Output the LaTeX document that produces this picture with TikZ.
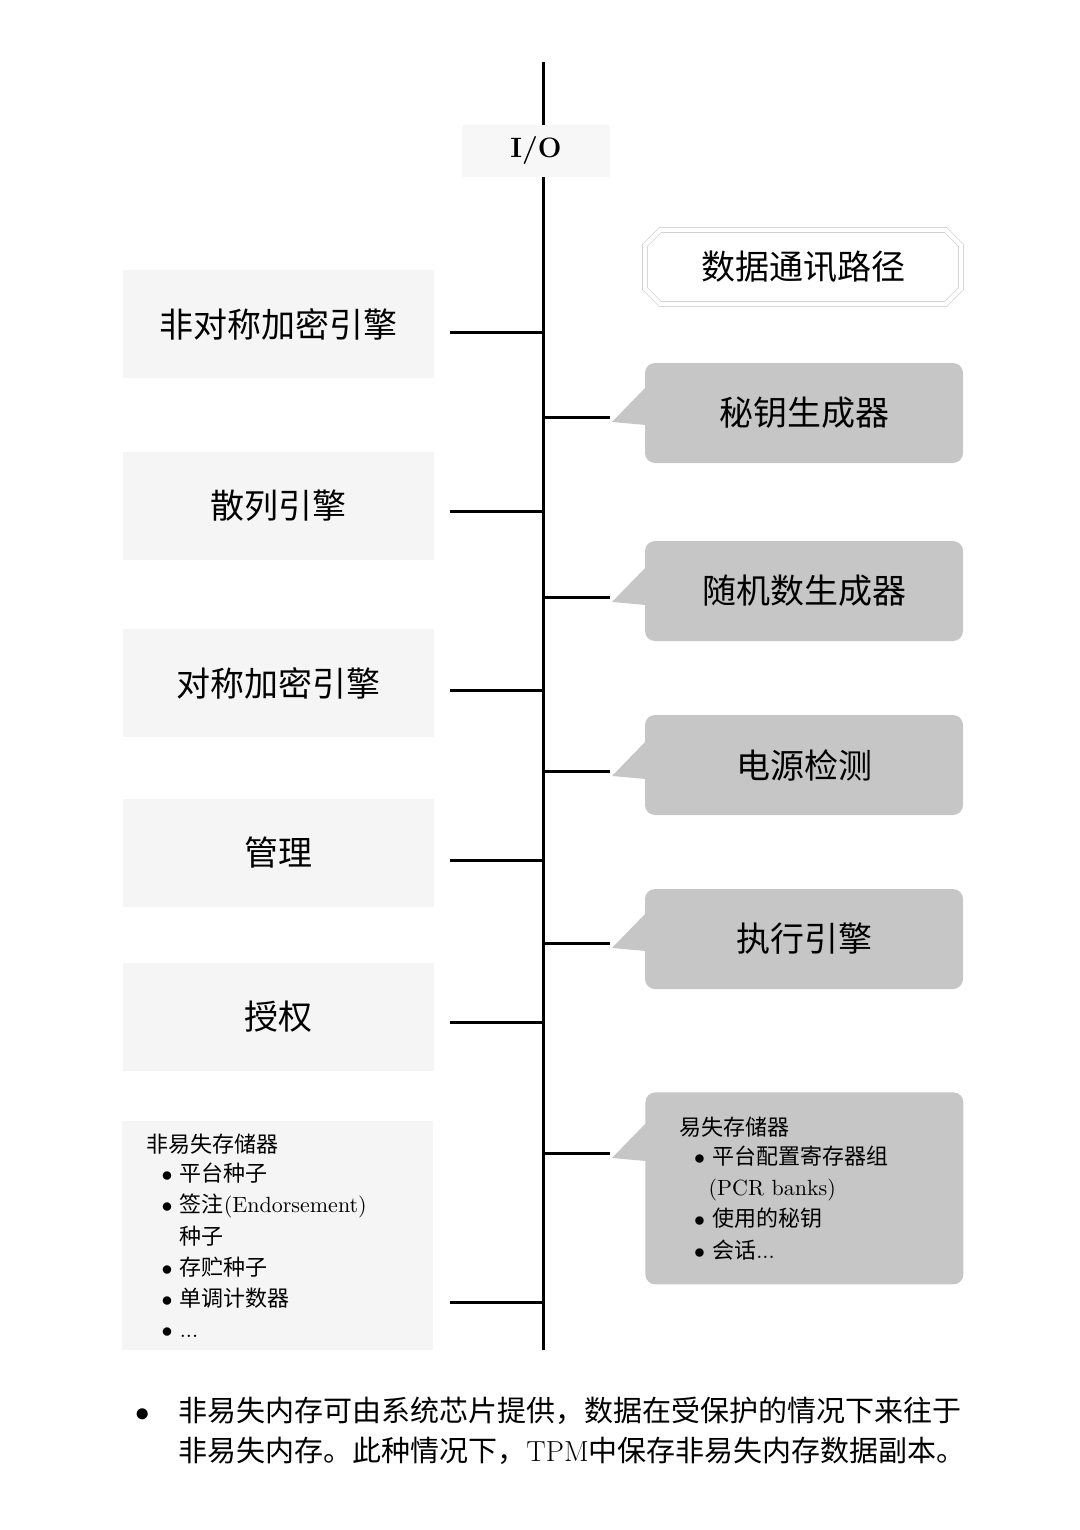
\documentclass[tikz,border=0pt]{standalone}
\usepackage{fontspec}
\setmainfont{Noto Sans CJK SC}
\newfontfamily\latinfont{Latin Modern Roman}
\newcommand{\lt}[1]{{\latinfont #1}}
\usetikzlibrary{positioning,shapes.misc}
\definecolor{boxlight}{HTML}{F5F5F5}
\definecolor{boxdark}{HTML}{C6C6C6}
\tikzset{
  x=0.5pt, y=-0.5pt,
  unit/.style={fill=boxlight, minimum width=155.5pt, minimum height=54pt, font=\fontsize{17}{20}\selectfont},
  part/.style={fill=boxdark, rounded corners=5pt, minimum width=159pt, minimum height=50pt, font=\fontsize{17}{20}\selectfont},
  link/.style={line width=1.5pt},
  tip/.style={fill=boxdark}
  }

\begin{document}
\begin{tikzpicture}
    \useasboundingbox (0,0) rectangle (1080,1530);

    % spine
    \coordinate (top) at (543,62);
    \coordinate (bot) at (543,1350);
    \draw [link] (top) -- (bot);
    \node [fill=boxlight!80, minimum width=74pt, minimum height=26pt, font=\latinfont\bfseries\fontsize{14}{16}\selectfont] at (536,151) (io) {I/O};

    \node [chamfered rectangle, chamfered rectangle xsep=4pt, draw=gray!35, double=white, double distance=2pt, fill=white,
           minimum width=158pt, minimum height=37pt, font=\fontsize{17}{20}\selectfont] at (803,267) (path) {数据通讯路径};

    % left units
    \node [unit] at (278,324) (asym) {非对称加密引擎};
    \node [unit] at (278,506) (hash) {散列引擎};
    \node [unit] at (278,683) (sym) {对称加密引擎};
    \node [unit] at (278,853) (mgmt) {管理};
    \node [unit] at (278,1017) (auth) {授权};
    \node [unit, minimum height=114.5pt, anchor=north west, align=left, inner xsep=12pt, inner ysep=3pt,
           text width=131pt, font=\fontsize{11}{15.6}\selectfont] at (122,1121) (nvm)
      {非易失存储器\\[-1pt]
       \ \ $\bullet$\ 平台种子\\
       \ \ $\bullet$\ 签注\lt{(Endorsement)}\\
       \ \ \phantom{$\bullet$}\ 种子\\
       \ \ $\bullet$\ 存贮种子\\
       \ \ $\bullet$\ 单调计数器\\
       \ \ $\bullet$\ \lt{...}};

    % right parts
    \node [part] at (804,413) (keygen) {秘钥生成器};
    \node [part] at (804,591) (rng) {随机数生成器};
    \node [part] at (804,765) (power) {电源检测};
    \node [part] at (804,939) (exec) {执行引擎};
    \node [part, minimum height=96pt, anchor=north west, align=left, inner xsep=17pt, inner ysep=10pt, text width=125pt,
           font=\fontsize{11}{15.6}\selectfont] at (645,1092) (vm)
      {易失存储器\\[-1pt]
       \ \ $\bullet$\ 平台配置寄存器组\\
       \ \ \phantom{$\bullet$}\,\lt{(PCR banks)}\\
       \ \ $\bullet$\ 使用的秘钥\\
       \ \ $\bullet$\ 会话\lt{...}};

    % links to the left
    \foreach \n/\y in {asym/332, hash/511, sym/690, mgmt/860, auth/1022, nvm/1302}
      \draw [link] (450,\y) coordinate (\n-l) -- (543,\y);

    % links and callout tips to the right
    \foreach \n/\y in {keygen/417, rng/597, power/771, exec/943, vm/1153}
      {
      \fill [tip] (646,\y-30) -- (612,\y+5) -- (646,\y+8) -- cycle;
      \draw [link] (543,\y) -- (610,\y) coordinate (\n-r);
      }

    % note
    \node [anchor=north west, align=left, font=\fontsize{14.5}{20}\selectfont] at (128,1390) (note)
      {$\bullet$\quad 非易失内存可由系统芯片提供，数据在受保护的情况下来往于\\
       \phantom{$\bullet$}\quad 非易失内存。此种情况下，\lt{TPM}中保存非易失内存数据副本。};
  \end{tikzpicture}
\end{document}
